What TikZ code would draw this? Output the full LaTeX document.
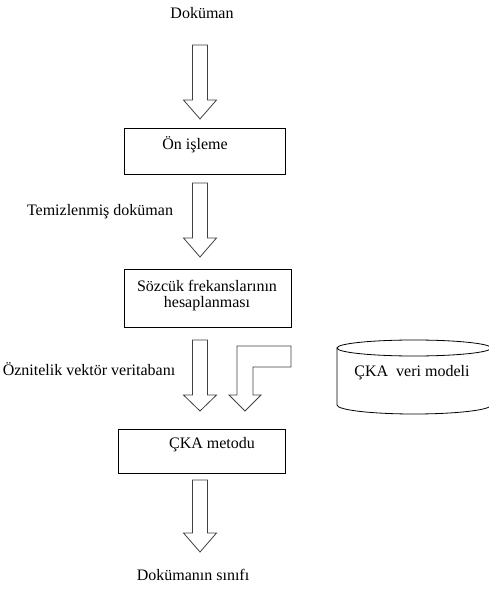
\documentclass[tikz,border=0pt]{standalone}
\usepackage{fontspec}
\setmainfont{Liberation Serif}
\usetikzlibrary{positioning}
\tikzset{
  lbl/.style={inner sep=0pt, font=\fontsize{12}{14}\selectfont},
  boxline/.style={draw=black, line width=0.6pt},
  blockarr/.style={draw=black!75, line width=0.6pt, line join=miter},
}
% block arrow: centre x, top y, head y, tip y
\newcommand{\blockdown}[4]{%
  \draw[blockarr] (#1-7.5,#2) -- (#1+7.5,#2) -- (#1+7.5,#3) -- (#1+16.5,#3)
    -- (#1,#4) -- (#1-16.5,#3) -- (#1-7.5,#3) -- cycle;}
\begin{document}
\begin{tikzpicture}[x=0.75pt,y=-0.75pt]
	\useasboundingbox (0,0) rectangle (488,591);
	\node [coordinate] (B1a) at (124,128) {};
	\node [coordinate] (B1b) at (285,174) {};
	\node [coordinate] (B2a) at (124,269) {};
	\node [coordinate] (B2b) at (291,327) {};
	\node [coordinate] (B3a) at (118,429) {};
	\node [coordinate] (B3b) at (285,473) {};
	\node [lbl] (doc) at (202,13) {Doküman};
	\node [lbl] (pre) at (195,145) {Ön işleme};
	\node [lbl] (clean) at (100,212) {Temizlenmiş doküman};
	\node [lbl] (freq1) at (207,286) {Sözcük frekanslarının};
	\node [lbl] (freq2) at (207,304) {hesaplanması};
	\node [lbl] (feat) at (89,369) {Öznitelik vektör veritabanı};
	\node [lbl] (model) at (412,373) {ÇKA\ \ veri modeli};
	\node [lbl] (method) at (212,445) {ÇKA metodu};
	\node [lbl] (cls) at (193,575) {Dokümanın sınıfı};
	\draw [boxline] (B1a) rectangle (B1b);
	\draw [boxline] (B2a) rectangle (B2b);
	\draw [boxline] (B3a) rectangle (B3b);
	\blockdown{200}{45}{100}{119}
	\blockdown{200}{183}{238}{257}
	\blockdown{200}{340}{395}{411}
	\blockdown{200}{480}{533}{552}
	\draw [blockarr] (237,346) -- (291,346) -- (291,367) -- (253,367) -- (253,395)
	  -- (261,395) -- (245,411) -- (229,395) -- (237,395) -- cycle;
	% database
	\draw [boxline] (414,348) ellipse (77 and 8);
	\draw [boxline] (337,348) -- (337,405) arc [start angle=180, end angle=360, x radius=77, y radius=-9] -- (491,348);
\end{tikzpicture}
\end{document}
